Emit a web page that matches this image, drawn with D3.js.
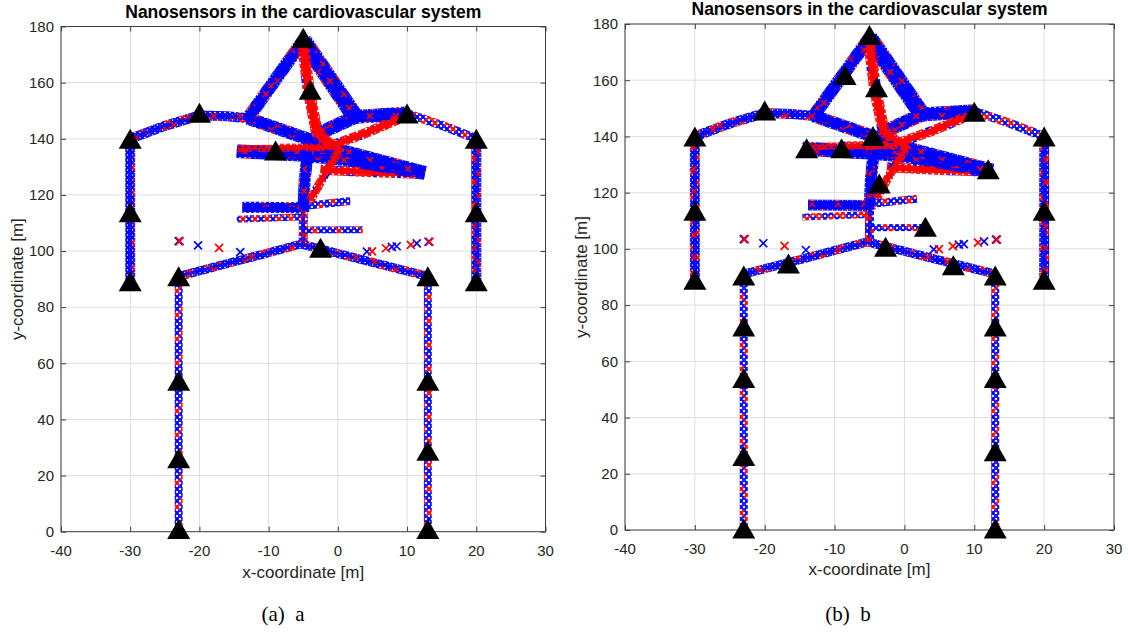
<!DOCTYPE html>
<html>
<head>
<meta charset="utf-8">
<script src="https://cdn.jsdelivr.net/npm/d3@7"></script>
<style>
  body { margin: 0; background: #fff; }
  svg { display: block; }
  text { font-family: "Liberation Sans", Arial, Helvetica, sans-serif; fill: #262626; }
</style>
</head>
<body>
<svg id="fig" width="1128" height="633"></svg>
<script>
// ---------- data ----------
const xTicks = [-40, -30, -20, -10, 0, 10, 20, 30];
const yTicks = [0, 20, 40, 60, 80, 100, 120, 140, 160, 180];
const chartTitle = "Nanosensors in the cardiovascular system";
const xLabel = "x-coordinate [m]";
const yLabel = "y-coordinate [m]";
const captions = ["(a)  a", "(b)  b"];

// vessel centrelines, [x, y] in metres
const legLeft = [[-23, 0], [-23, 90]];
const legRight = [[13, 0], [13, 90]];
const armLeft = [[-30, 89], [-30, 140]];
const armRight = [[20, 89], [20, 140]];
const shoulderLeft = [[-30, 140], [-25, 144.6], [-20, 148.3], [-16, 148], [-13, 147.3]];
const shoulderRight = [[20, 140], [15, 144.8], [10, 149]];
const collarRight = [[10, 149], [2.5, 147.8]];
const apexLeft = [[-5, 175], [-13, 147.3]];
const apexRight = [[-5, 175], [2.5, 147.8]];
const innerRight = [[2.5, 147.8], [-3.5, 141]];
const upperDiag = [[-13, 147.3], [-5, 140.5], [1, 135.5], [12.6, 128]];
const chestBand = [[-14.6, 135.6], [-5, 134.3], [0.5, 133], [12.6, 127.8]];
const spineUpper = [[-4.2, 139], [-4.8, 125], [-5, 114]];
const spineLower = [[-5, 116], [-5, 102.5]];
const branch115 = [[-13.8, 115.6], [-5, 115.4]];
const branch117 = [[-5, 116], [1.8, 117.8]];
const branch111 = [[-14.6, 111.3], [-5, 112.2]];
const branch107 = [[-5, 107.5], [3.6, 107.6]];
const body = [[-23, 91], [-14, 96.8], [-5.3, 102.5], [4, 96.6], [13, 91]];
const redApex = [[-5, 173], [-4.2, 157], [-3, 142], [-1, 137.5]];
const redHub = [[-1, 137.5], [4, 142], [8.8, 147]];
const redChestLeft = [[-14.5, 136.5], [-9, 136.6]];
const redChest = [[-9, 136.8], [-1, 137]];
const redLow = [[-2.5, 129], [5, 128.1], [11.5, 127.5]];
const redDiag = [[-4, 118], [-1.5, 129], [0.5, 137]];

// gateway nodes
const gatewaysA = [[-5, 176], [-4, 157.5], [-20, 149.3], [10, 149], [-30, 140], [20, 140],
  [-9, 135.8], [-30, 113.8], [20, 113.8], [-2.5, 101.2], [-23, 91], [13, 91], [-30, 89.2], [20, 89.2],
  [-23, 53.8], [-23, 26.2], [-23, 1], [13, 53.8], [13, 28.8], [13, 1]];
const gatewaysB = [[-5, 176.1], [-8.5, 161.9], [-4, 157.5], [-20, 149.2], [10, 148.8], [-30, 140], [20, 140],
  [-4.5, 140.2], [-14, 135.8], [-9, 135.8], [12, 128.3], [-3.6, 123.3], [-30, 113.6], [20, 113.6],
  [3, 107.9], [-2.7, 100.8], [-16.6, 94.8], [7, 94.2], [-23, 90.5], [13, 90.5], [-30, 89], [20, 89],
  [-23, 72.4], [-23, 54.1], [-23, 26.3], [-23, 0.5], [13, 72.4], [13, 54.1], [13, 28], [13, 0.5]];

// isolated sensors away from the vessels
const strayBlue = [[-23, 103.5], [-20.2, 102], [-14.1, 99.6], [4.2, 99.8], [7.8, 101.5], [8.5, 101.7], [11.4, 102.7], [13.1, 103.3]];
const strayRed = [[-23, 103.5], [-17.3, 101.1], [4.8, 99.9], [6.8, 101], [10.4, 102.2], [13.1, 103.3]];

// ---------- layout & styles ----------
const frames = [
  { x0: 61, x1: 545.5, y0: 26.5, y1: 531.7, titleY: 17.5, tickY: 556, labelY: 578, ylabX: 23, capX: 283, capY: 621 },
  { x0: 625, x1: 1114, y0: 24, y1: 530, titleY: 15, tickY: 554, labelY: 575, ylabX: 587, capX: 848, capY: 621 }
];
const BLUE = "#0000ff", RED = "#ff0000";

const svg = d3.select("#fig");
const defs = svg.append("defs");

// cross-hatch textures that imitate rows of "x" markers
function crossPattern(id, cell, cols, rows, redCells, sw, main, alt) {
  const p = defs.append("pattern").attr("id", id)
    .attr("patternUnits", "userSpaceOnUse")
    .attr("width", cell * cols).attr("height", cell * rows);
  for (let r = 0; r < rows; r++) {
    for (let c = 0; c < cols; c++) {
      const isAlt = redCells.some(([rr, cc]) => rr === r && cc === c);
      const a = c * cell, b = r * cell, m = 0.3;
      p.append("path")
        .attr("d", `M${a + m},${b + m}L${a + cell - m},${b + cell - m}M${a + cell - m},${b + m}L${a + m},${b + cell - m}`)
        .attr("stroke", isAlt ? alt : main).attr("stroke-width", sw).attr("fill", "none");
    }
  }
}
crossPattern("xLeg", 6, 4, 4, [[0, 1], [1, 3], [2, 0], [3, 2]], 2.0, BLUE, RED);
crossPattern("xDense", 5, 5, 5, [[0, 2], [1, 4], [3, 1], [4, 3]], 2.2, BLUE, RED);
crossPattern("xMix", 6, 4, 4, [[0, 0], [0, 2], [1, 3], [2, 1], [3, 0], [3, 3]], 2.0, BLUE, RED);
crossPattern("xRed", 6, 4, 4, [[1, 2], [3, 0]], 2.0, RED, BLUE);
// sparse red speckles laid over solid blue bands
(function () {
  const p = defs.append("pattern").attr("id", "redSpeck")
    .attr("patternUnits", "userSpaceOnUse").attr("width", 26).attr("height", 22);
  [[3, 3], [15, 12], [8, 17]].forEach(([a, b]) => {
    p.append("path").attr("d", `M${a},${b}l6,6M${a + 6},${b}l-6,6`)
      .attr("stroke", RED).attr("stroke-width", 1.6).attr("fill", "none");
  });
})();

// drawing list: centreline + rendering style
const vesselStyles = [
  { pts: legLeft, kind: "thin", tex: "xLeg", w: 8 },
  { pts: legRight, kind: "thin", tex: "xLeg", w: 8 },
  { pts: armLeft, kind: "core", tex: "xDense", w: 10 },
  { pts: armRight, kind: "core", tex: "xDense", w: 10 },
  { pts: body, kind: "core", tex: "xDense", w: 9 },
  { pts: shoulderLeft, kind: "core", tex: "xDense", w: 10 },
  { pts: shoulderRight, kind: "thin", tex: "xMix", w: 9 },
  { pts: branch111, kind: "thin", tex: "xMix", w: 7 },
  { pts: branch107, kind: "thin", tex: "xLeg", w: 7 },
  { pts: branch117, kind: "thin", tex: "xMix", w: 8 },
  { pts: spineLower, kind: "core", tex: "xMix", w: 9 },
  { pts: branch115, kind: "band", w: 9 },
  { pts: redLow, kind: "red", w: 8 },
  { pts: chestBand, kind: "band", w: 12 },
  { pts: upperDiag, kind: "band", w: 11 },
  { pts: spineUpper, kind: "band", w: 10 },
  { pts: apexLeft, kind: "band", w: 11 },
  { pts: apexRight, kind: "band", w: 15 },
  { pts: collarRight, kind: "band", w: 12 },
  { pts: innerRight, kind: "band", w: 12 },
  { pts: redChestLeft, kind: "thin", tex: "xRed", w: 7 },
  { pts: redApex, kind: "red", w: 10 },
  { pts: redHub, kind: "red", w: 8 },
  { pts: redChest, kind: "red", w: 6 },
  { pts: redDiag, kind: "red", w: 7 }
];

function drawPanel(f, gateways, caption) {
  const x = d3.scaleLinear().domain([-40, 30]).range([f.x0, f.x1]);
  const y = d3.scaleLinear().domain([0, 180]).range([f.y1, f.y0]);
  const g = svg.append("g");

  // grid
  g.append("g").selectAll("line").data(xTicks).join("line")
    .attr("x1", d => x(d)).attr("x2", d => x(d)).attr("y1", f.y0).attr("y2", f.y1)
    .attr("stroke", "#dedede").attr("stroke-width", 1);
  g.append("g").selectAll("line").data(yTicks).join("line")
    .attr("x1", f.x0).attr("x2", f.x1).attr("y1", d => y(d)).attr("y2", d => y(d))
    .attr("stroke", "#dedede").attr("stroke-width", 1);

  // axes box with inward ticks on all sides
  g.append("rect").attr("x", f.x0).attr("y", f.y0).attr("width", f.x1 - f.x0).attr("height", f.y1 - f.y0)
    .attr("fill", "none").attr("stroke", "#404040").attr("stroke-width", 1);
  const tl = 5;
  const axB = d3.axisBottom(x).tickValues(xTicks).tickSize(-tl).tickFormat("");
  const axT = d3.axisTop(x).tickValues(xTicks).tickSize(-tl).tickFormat("");
  const axL = d3.axisLeft(y).tickValues(yTicks).tickSize(-tl).tickFormat("");
  const axR = d3.axisRight(y).tickValues(yTicks).tickSize(-tl).tickFormat("");
  [[axB, `translate(0,${f.y1})`], [axT, `translate(0,${f.y0})`], [axL, `translate(${f.x0},0)`], [axR, `translate(${f.x1},0)`]]
    .forEach(([ax, tr]) => {
      const a = g.append("g").attr("transform", tr).call(ax);
      a.select(".domain").remove();
      a.selectAll("line").attr("stroke", "#404040");
    });

  // tick labels
  g.append("g").selectAll("text").data(xTicks).join("text")
    .attr("x", d => x(d)).attr("y", f.tickY).attr("text-anchor", "middle")
    .attr("font-size", 15).text(d => d);
  g.append("g").selectAll("text").data(yTicks).join("text")
    .attr("x", f.x0 - 7).attr("y", d => y(d) + 5.3).attr("text-anchor", "end")
    .attr("font-size", 15).text(d => d);

  // vessels
  const line = d3.line().x(d => x(d[0])).y(d => y(d[1]));
  const vg = g.append("g").attr("fill", "none").attr("stroke-linejoin", "round");
  vesselStyles.forEach(v => {
    const d = line(v.pts);
    if (v.kind === "thin") {
      vg.append("path").attr("d", d).attr("stroke", `url(#${v.tex})`).attr("stroke-width", v.w);
    } else if (v.kind === "core") {
      vg.append("path").attr("d", d).attr("stroke", `url(#${v.tex})`).attr("stroke-width", v.w);
      vg.append("path").attr("d", d).attr("stroke", BLUE).attr("stroke-width", v.w - 6).attr("stroke-opacity", 0.85);
      vg.append("path").attr("d", d).attr("stroke", "url(#redSpeck)").attr("stroke-width", v.w - 2);
    } else if (v.kind === "band") {
      vg.append("path").attr("d", d).attr("stroke", "url(#xDense)").attr("stroke-width", v.w + 2);
      vg.append("path").attr("d", d).attr("stroke", BLUE).attr("stroke-width", v.w - 1);
      vg.append("path").attr("d", d).attr("stroke", "url(#redSpeck)").attr("stroke-width", v.w - 4);
    } else {
      vg.append("path").attr("d", d).attr("stroke", "url(#xRed)").attr("stroke-width", v.w + 2);
      vg.append("path").attr("d", d).attr("stroke", RED).attr("stroke-width", v.w - 2);
    }
  });

  // isolated sensors
  const cross = "M-4,-4L4,4M4,-4L-4,4";
  g.append("g").selectAll("path").data(strayBlue).join("path")
    .attr("d", cross).attr("transform", d => `translate(${x(d[0])},${y(d[1])})`)
    .attr("stroke", BLUE).attr("stroke-width", 1.7).attr("fill", "none");
  g.append("g").selectAll("path").data(strayRed).join("path")
    .attr("d", cross).attr("transform", d => `translate(${x(d[0]) + 1},${y(d[1])})`)
    .attr("stroke", RED).attr("stroke-width", 1.7).attr("fill", "none");

  // gateway nodes (filled up-triangles)
  g.append("g").selectAll("path").data(gateways).join("path")
    .attr("d", "M0,-10L11.5,10L-11.5,10Z")
    .attr("transform", d => `translate(${x(d[0])},${y(d[1])})`)
    .attr("fill", "#000");

  // title & labels
  const cx = (f.x0 + f.x1) / 2, cy = (f.y0 + f.y1) / 2;
  g.append("text").attr("x", cx).attr("y", f.titleY).attr("text-anchor", "middle")
    .attr("font-size", 17.5).attr("font-weight", "bold").style("fill", "#000").text(chartTitle);
  g.append("text").attr("x", cx).attr("y", f.labelY).attr("text-anchor", "middle")
    .attr("font-size", 17).text(xLabel);
  g.append("text").attr("transform", `translate(${f.ylabX},${cy}) rotate(-90)`).attr("text-anchor", "middle")
    .attr("font-size", 17).text(yLabel);
  g.append("text").attr("x", f.capX).attr("y", f.capY).attr("text-anchor", "middle")
    .style("font-family", "'Liberation Serif', 'DejaVu Serif', serif").style("fill", "#000")
    .attr("font-size", 21).attr("xml:space", "preserve").text(caption);
}

drawPanel(frames[0], gatewaysA, captions[0]);
drawPanel(frames[1], gatewaysB, captions[1]);
</script>
</body>
</html>
